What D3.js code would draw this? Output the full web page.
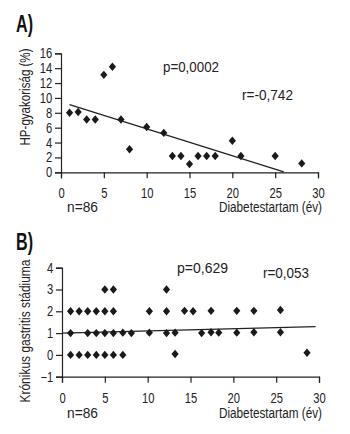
<!DOCTYPE html>
<html>
<head>
  <meta charset="utf-8">
  <style>
    body { margin: 0; background: #fff; }
    svg { display: block; }
    text { font-family: 'Liberation Sans', Arial, sans-serif; fill: #222; }
    .axis path, .axis line { stroke: #222; stroke-width: 1.2; }
    .axis text { font-size: 14px; font-family: 'Liberation Sans', Arial, sans-serif; fill: #222; }
  </style>
</head>
<body>
  <div id="chart"></div>

  <script src="https://d3js.org/d3.v7.min.js"></script>

  <script>
    // panel A - HP frequency vs diabetes duration
    var aX = [1, 2, 3, 4, 5, 6, 7, 8, 10, 12, 13, 14, 15, 16, 17, 18, 20, 21, 25, 28.1];
    var aY = [8, 8.1, 7.1, 7.1, 13.1, 14.2, 7.1, 3.1, 6.1, 5.3, 2.2, 2.2, 1.1, 2.2, 2.2, 2.2, 4.25, 2.2, 2.2, 1.2];
    var aFitX = [1, 26];
    var aFitY = [9.1, 0.05];
    var aYTicks = [0, 2, 4, 6, 8, 10, 12, 14, 16];

    // panel B - gastritis stage vs diabetes duration
    var bX = [1, 2, 3, 4, 5, 6, 10.2, 12.2, 14.3, 15.3, 17.4, 20.4, 22.4, 25.5,
              5, 6, 12.2,
              1, 3, 4, 5, 6, 7.1, 8.1, 10.2, 12.2, 13.2, 16.3, 17.4, 18.3, 20.4, 22.4, 25.5,
              1, 2, 3, 4, 5, 6, 7.1, 13.2, 28.6];
    var bY = [2, 2, 2, 2, 2, 2, 2, 2, 2.02, 2, 2.02, 2.02, 2.02, 2.06,
              3, 3, 3,
              1, 1, 1, 1, 1, 1.02, 1, 1.02, 1, 1.02, 1, 1.04, 1.02, 1.02, 1.04, 1.04,
              0, 0, 0, 0, 0, 0, 0, 0.04, 0.1];
    var bFitX = [0, 29.6];
    var bFitY = [1.0, 1.3];
    var bYTicks = [-1, 0, 1, 2, 3, 4];

    var xTicks = [0, 5, 10, 15, 20, 25, 30];

    var svg = d3.select('#chart')
        .append('svg')
        .attr('width', 350)
        .attr('height', 434);

    var diamond = 'M0,-4.2L3.6,0L0,4.2L-3.6,0Z';
    var squeeze = 'scale(0.8,1)';

    // text squeezed to the width measured on the reference (condensed face)
    function label(x, y, str, width, size) {
      return svg.append('text')
          .attr('x', x)
          .attr('y', y)
          .attr('textLength', width)
          .attr('lengthAdjust', 'spacingAndGlyphs')
          .style('font-size', (size || 14) + 'px')
          .text(str);
    }

    function panel(opt) {
      var x = d3.scaleLinear().domain([0, 30]).range([opt.left, opt.right]);
      var y = d3.scaleLinear().domain(opt.yDomain).range([opt.bottom, opt.top]);

      label(16, opt.titleY, opt.title, 17, 24)
          .style('font-weight', 'bold')
          .style('fill', '#111');

      var gx = svg.append('g')
          .attr('class', 'axis')
          .attr('transform', 'translate(0,' + opt.bottom + ')')
          .call(d3.axisBottom(x).tickValues(xTicks).tickSize(6).tickPadding(10).tickSizeOuter(6));
      gx.selectAll('text').attr('transform', squeeze);

      var gy = svg.append('g')
          .attr('class', 'axis')
          .attr('transform', 'translate(' + opt.left + ',0)')
          .call(d3.axisLeft(y).tickValues(opt.yTicks).tickFormat(d3.format('d'))
              .tickSize(6).tickPadding(5).tickSizeOuter(6));
      gy.selectAll('text').attr('transform', squeeze);

      label(0, 0, opt.yLabel, opt.labelLen)
          .attr('transform', 'translate(' + opt.labelX + ',' + opt.labelY + ') rotate(-90)')
          .attr('text-anchor', 'middle');

      svg.append('line')
          .attr('x1', x(opt.fitX[0])).attr('y1', y(opt.fitY[0]))
          .attr('x2', x(opt.fitX[1])).attr('y2', y(opt.fitY[1]))
          .attr('stroke', '#222')
          .attr('stroke-width', 1.2);

      svg.append('g')
          .selectAll('path')
          .data(opt.xs)
          .enter().append('path')
          .attr('d', diamond)
          .attr('fill', '#1a1a1a')
          .attr('transform', (d, i) => 'translate(' + x(d) + ',' + y(opt.ys[i]) + ')');

      label(opt.pX, opt.pY, opt.p, opt.pLen);
      label(opt.rX, opt.rY, opt.r, opt.rLen);

      label(67, opt.nY, 'n=86', 31);
      label(219, opt.nY, 'Diabetestartam (év)', 103);
    }

    panel({
      title: 'A)', titleY: 32,
      left: 61, right: 318, top: 53.3, bottom: 172.3,
      yDomain: [0, 16], yTicks: aYTicks,
      yLabel: 'HP-gyakoriság (%)', labelLen: 97, labelX: 30, labelY: 97,
      xs: aX, ys: aY, fitX: aFitX, fitY: aFitY,
      p: 'p=0,0002', pX: 163, pY: 72, pLen: 56,
      r: 'r=-0,742', rX: 242, rY: 100, rLen: 51,
      nY: 212
    });

    panel({
      title: 'B)', titleY: 250,
      left: 62, right: 319, top: 267.7, bottom: 376.7,
      yDomain: [-1, 4], yTicks: bYTicks,
      yLabel: 'Krónikus gastritis stádiuma', labelLen: 143, labelX: 30, labelY: 331,
      xs: bX, ys: bY, fitX: bFitX, fitY: bFitY,
      p: 'p=0,629', pX: 177, pY: 273, pLen: 51,
      r: 'r=0,053', rX: 263, rY: 278, rLen: 46,
      nY: 418
    });
  </script>
</body>
</html>
